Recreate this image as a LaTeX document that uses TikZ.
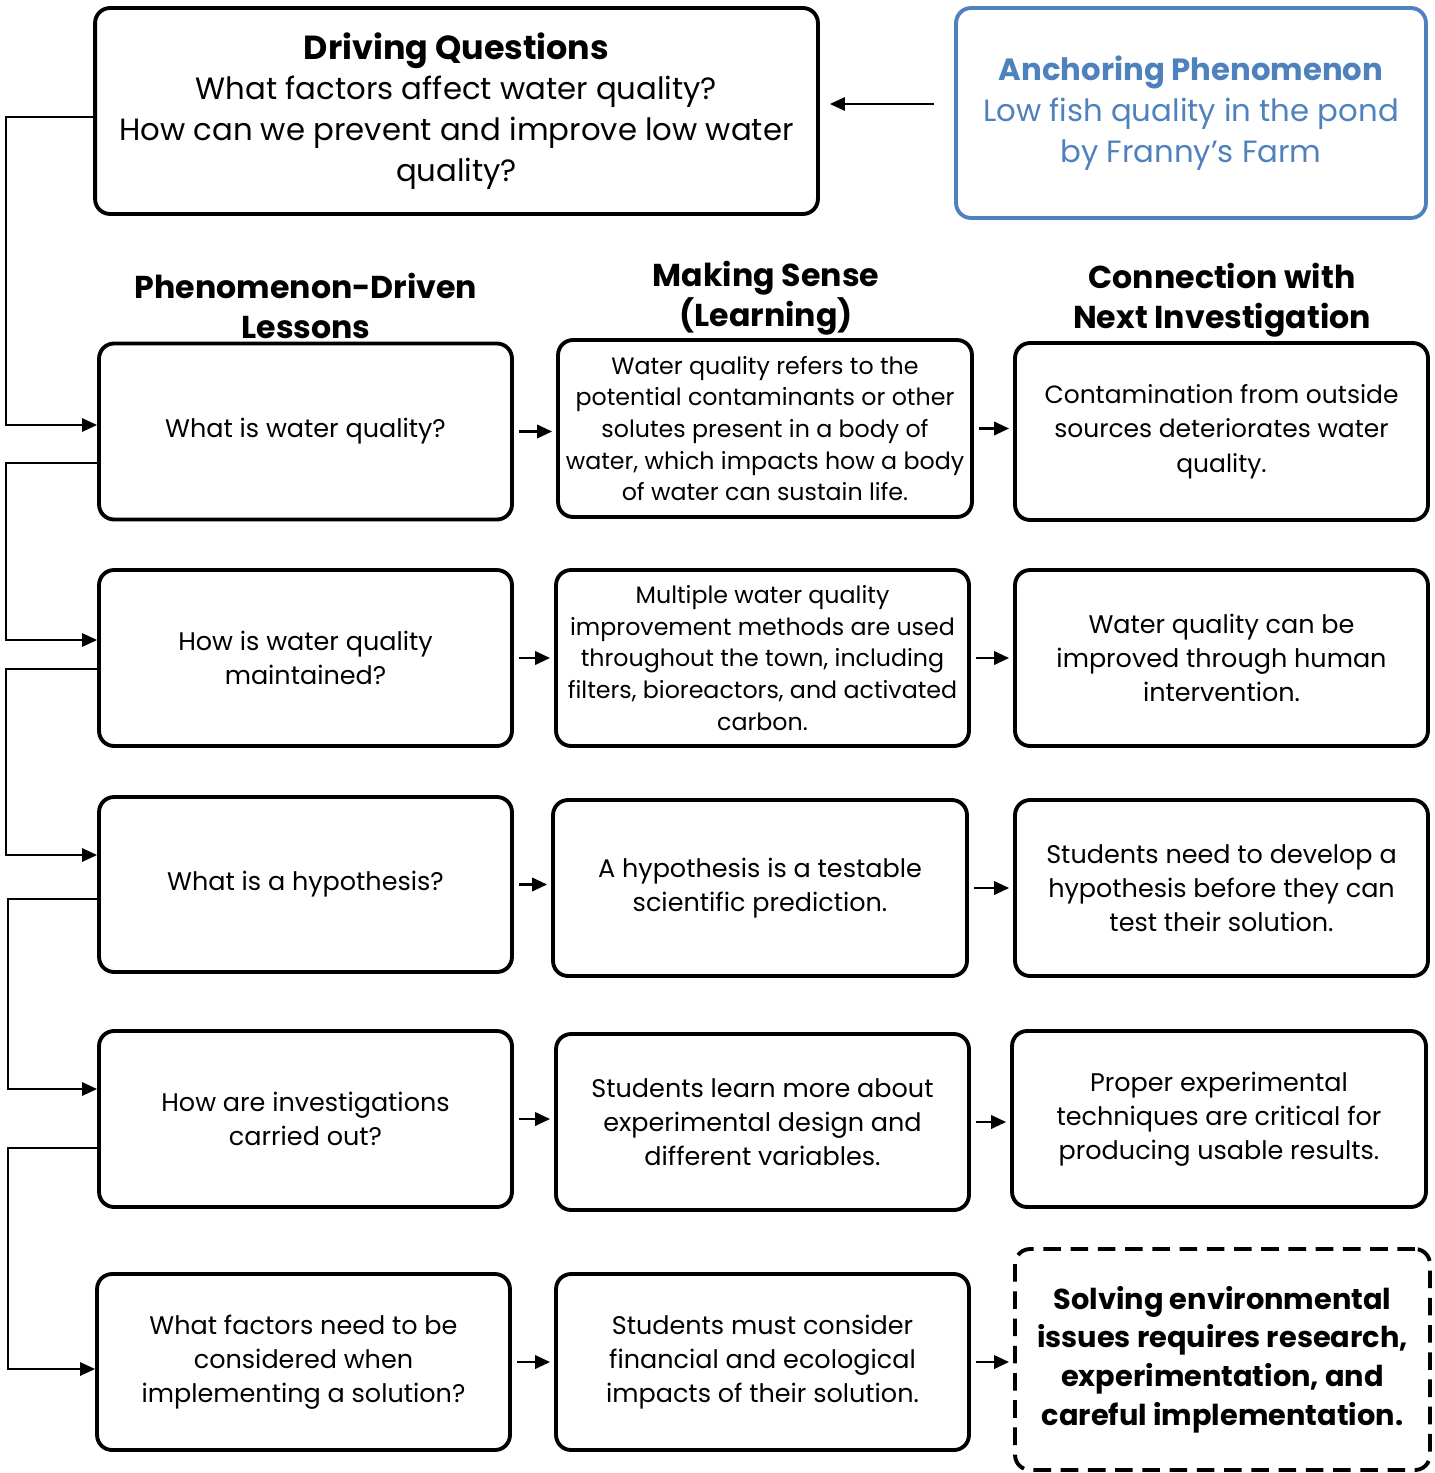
\documentclass[tikz,border=0pt]{standalone}
\usepackage{fontspec}
\setmainfont{Poppins}
\usetikzlibrary{arrows.meta, positioning, calc}
\definecolor{anchorblue}{RGB}{79,129,189}

\begin{document}
\begin{tikzpicture}[
    x=0.02cm, y=-0.02cm,
    box/.style={rectangle, draw, line width=2.2pt, rounded corners=0.3cm, minimum width=8.26cm, minimum height=3.52cm, align=center, font=\fontsize{14.5}{19.5}\selectfont},
    sensebox/.style={box, font=\fontsize{13.5}{18}\selectfont},
    headline/.style={align=center, font=\fontsize{18}{22.5}\selectfont\bfseries},
    arrow/.style={-{Triangle[length=8.5pt, width=7.5pt]}, line width=1.2pt},
    link/.style={arrow, line width=1.6pt, shorten <=0.1cm, shorten >=0.08cm}
]
    \useasboundingbox (0,0) rectangle (1434,1473);

    % Driving questions and anchoring phenomenon
    \node[box, minimum width=14.46cm, minimum height=4.12cm, font=\fontsize{17.5}{23.2}\selectfont] (dq) at (456.5,111)
        {{\fontsize{19}{23.2}\selectfont\bfseries Driving Questions}\\What factors affect water quality?\\How can we prevent and improve low water\\quality?};
    \node[box, draw=anchorblue, text=anchorblue, minimum width=9.4cm, minimum height=4.2cm, font=\fontsize{17.5}{23.2}\selectfont] (anch) at (1191,113)
        {{\bfseries Anchoring Phenomenon}\\Low fish quality in the pond\\by Franny's Farm};
    \draw[arrow, shorten <=0.4cm, shorten >=0.2cm] ([yshift=0.18cm]anch.west) -- ([yshift=0.18cm]anch.west -| dq.east);

    % Column headings
    \node[headline] (hlesson) at (306,306) {Phenomenon-Driven\\Lessons};
    \node[headline] (hsense) at (766,298) {Making Sense\\(Learning)};
    \node[headline] (hnext) at (1222,300) {Connection with\\Next Investigation};

    % Row 1
    \node[box] (l1) at (305.5,431.5) {What is water quality?};
    \node[sensebox, minimum width=8.28cm, minimum height=3.54cm] (m1) at (765,428.5) {Water quality refers to the\\potential contaminants or other\\solutes present in a body of\\water, which impacts how a body\\of water can sustain life.};
    \node[box, minimum height=3.54cm, font=\fontsize{14.2}{19.5}\selectfont] (r1) at (1221.5,431.5) {Contamination from outside\\sources deteriorates water\\quality.};

    % Row 2
    \node[box] (l2) at (305.5,658) {How is water quality\\maintained?};
    \node[sensebox] (m2) at (762.5,658) {Multiple water quality\\improvement methods are used\\throughout the town, including\\filters, bioreactors, and activated\\carbon.};
    \node[box] (r2) at (1221.5,658) {Water quality can be\\improved through human\\intervention.};

    % Row 3
    \node[box, minimum height=3.5cm] (l3) at (305.5,884.5) {What is a hypothesis?};
    \node[box, minimum width=8.28cm] (m3) at (760,888) {A hypothesis is a testable\\scientific prediction.};
    \node[box] (r3) at (1221.5,888) {Students need to develop a\\hypothesis before they can\\test their solution.};

    % Row 4
    \node[box] (l4) at (305.5,1119) {How are investigations\\carried out?};
    \node[box] (m4) at (762.5,1122) {Students learn more about\\experimental design and\\different variables.};
    \node[box, minimum width=8.28cm] (r4) at (1219,1119) {Proper experimental\\techniques are critical for\\producing usable results.};

    % Row 5
    \node[box] (l5) at (303.5,1362) {What factors need to be\\considered when\\implementing a solution?};
    \node[box] (m5) at (762.5,1362) {Students must consider\\financial and ecological\\impacts of their solution.};
    \node[box, dash pattern=on 10pt off 5.5pt, minimum width=8.3cm, minimum height=4.42cm, font=\fontsize{16.4}{22}\selectfont\bfseries] (r5) at (1222.5,1359.5) {Solving environmental\\issues requires research,\\experimentation, and\\careful implementation.};

    % Arrows across each row
    \foreach \i in {1,...,5} {
        \draw[link] (l\i.east) -- (l\i.east -| m\i.west);
        \draw[link] (m\i.east) -- (m\i.east -| r\i.west);
    }

    % Flow down the lesson column
    \draw[arrow] ([yshift=-0.12cm]dq.west) -- ++(-87,0) |- ([yshift=0.13cm]l1.west);
    \draw[arrow] ([yshift=-0.63cm]l1.west) -- ++(-91,0) |- ([yshift=0.36cm]l2.west);
    \draw[arrow] ([yshift=-0.22cm]l2.west) -- ++(-91,0) |- ([yshift=0.59cm]l3.west);
    \draw[arrow] ([yshift=-0.29cm]l3.west) -- ++(-89,0) |- ([yshift=0.6cm]l4.west);
    \draw[arrow] ([yshift=-0.58cm]l4.west) -- ++(-89,0) |- ([yshift=-0.14cm]l5.west);
\end{tikzpicture}
\end{document}
